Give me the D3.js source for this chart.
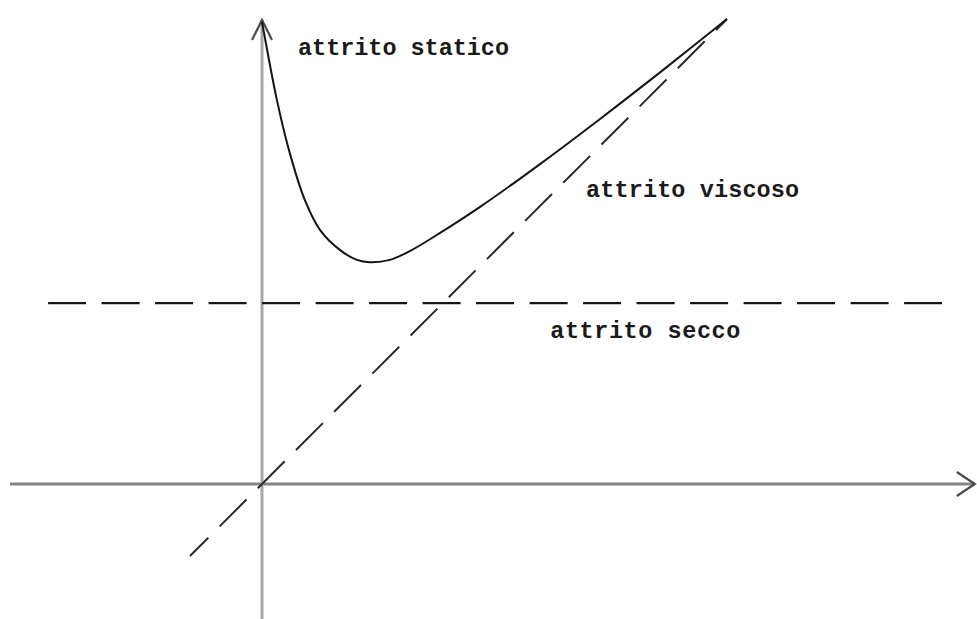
<!DOCTYPE html>
<html>
<head>
<meta charset="utf-8">
<script src="https://cdn.jsdelivr.net/npm/d3@7/dist/d3.min.js"></script>
<style>
  html, body { margin: 0; padding: 0; background: #fff; }
  svg { display: block; }
  text { font-family: "Liberation Mono", "DejaVu Sans Mono", monospace; font-weight: bold; fill: #1a1a1a; }
</style>
</head>
<body>
<svg id="chart" width="977" height="619"></svg>
<script>
// Friction force vs. velocity (qualitative sketch)
// Velocity values along the total-friction curve
const velocity = [0, 0.032, 0.058, 0.092, 0.125, 0.168, 0.204, 0.232, 0.275, 0.318, 0.383, 0.469, 0.598, 0.727, 0.871, 1.0];
// Total friction force (static + dry + viscous) at each velocity
const friction = [0.994, 0.826, 0.718, 0.611, 0.546, 0.503, 0.482, 0.477, 0.482, 0.501, 0.540, 0.596, 0.688, 0.785, 0.897, 1.0];
// Dry (Coulomb) friction level, constant in velocity
const dryLevel = [0.389];
const dryRange = [-0.46, 1.47];
// Viscous friction: proportional to velocity
const viscousRange = [-0.155, 1.0];
const viscousSlope = [1.0];
// Axis extents
const xAxisRange = [-0.542, 1.533];
const yAxisRange = [-0.30, 0.998];
// Labels
const labels = ["attrito statico", "attrito viscoso", "attrito secco"];

const svg = d3.select("#chart");

const x = d3.scaleLinear().domain([0, 1]).range([262, 727]);
const y = d3.scaleLinear().domain([0, 1]).range([484, 19]);

const line = d3.line().x(d => x(d[0])).y(d => y(d[1]));

// Axes
svg.append("line")
  .attr("x1", x(xAxisRange[0])).attr("x2", x(xAxisRange[1]))
  .attr("y1", y(0)).attr("y2", y(0))
  .attr("stroke", "#858585").attr("stroke-width", 3);
svg.append("line")
  .attr("x1", x(0)).attr("x2", x(0))
  .attr("y1", y(yAxisRange[0])).attr("y2", y(yAxisRange[1]))
  .attr("stroke", "#a6a6a6").attr("stroke-width", 3);

// Open arrowheads at axis ends
function arrow(tx, ty, dx, dy, back, spread) {
  // (dx, dy) is the unit direction of the axis
  const px = -dy, py = dx;
  const bx = tx - dx * back, by = ty - dy * back;
  svg.append("path")
    .attr("d", `M${bx + px * spread},${by + py * spread}L${tx},${ty}L${bx - px * spread},${by - py * spread}`)
    .attr("fill", "none").attr("stroke", "#4a4a4a").attr("stroke-width", 2.2)
    .attr("stroke-linejoin", "miter");
}
arrow(x(xAxisRange[1]), y(0), 1, 0, 18, 12);
arrow(x(0), y(yAxisRange[1]), 0, -1, 20, 10);

// Dry friction (dashed horizontal)
svg.append("path")
  .attr("d", line([[dryRange[0], dryLevel[0]], [dryRange[1], dryLevel[0]]]))
  .attr("fill", "none").attr("stroke", "#151515").attr("stroke-width", 2.2)
  .attr("stroke-dasharray", "38,15.5");

// Viscous friction (dashed line through the origin)
svg.append("path")
  .attr("d", line(viscousRange.map(v => [v, v * viscousSlope[0]])))
  .attr("fill", "none").attr("stroke", "#2a2a2a").attr("stroke-width", 2)
  .attr("stroke-dasharray", "38,16").attr("stroke-dashoffset", 12);

// Total friction curve
svg.append("path")
  .attr("d", line.curve(d3.curveCatmullRom.alpha(0.5))(velocity.map((v, i) => [v, friction[i]])))
  .attr("fill", "none").attr("stroke", "#151515").attr("stroke-width", 2);

// Labels
const fs = 23.5;
svg.append("text").attr("x", x(0) + 36).attr("y", y(0.922)).attr("font-size", fs)
  .attr("textLength", 211).text(labels[0]);
svg.append("text").attr("x", x(0.697)).attr("y", y(0.617)).attr("font-size", fs)
  .attr("textLength", 213).text(labels[1]);
svg.append("text").attr("x", x(0.62)).attr("y", y(dryLevel[0]) + 35).attr("font-size", fs)
  .attr("textLength", 190).text(labels[2]);
</script>
</body>
</html>
